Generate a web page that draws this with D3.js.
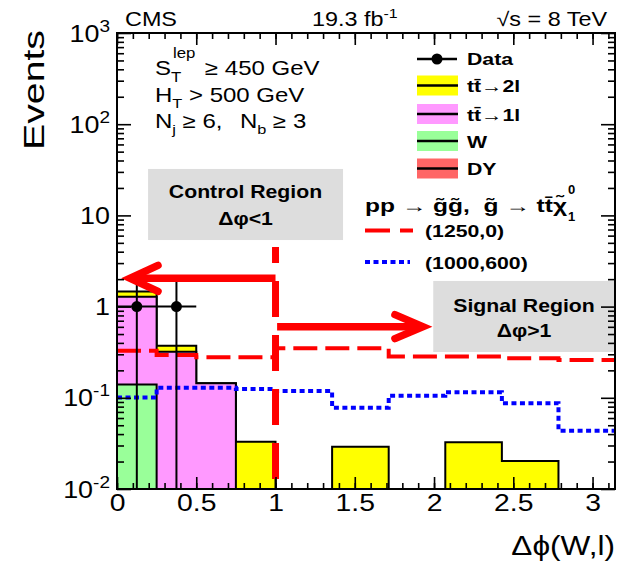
<!DOCTYPE html>
<html><head><meta charset="utf-8">
<script src="https://cdn.jsdelivr.net/npm/d3@7"></script>
<style>
body{margin:0;background:#fff;}
svg{display:block;font-family:"Liberation Sans",Arial,Helvetica,sans-serif;}
</style></head><body>
<svg id="c" width="625" height="562"></svg>
<script>
// ---------------- data ----------------
const binEdges = [0, 0.25, 0.5, 0.75, 1.0, 1.357, 1.714, 2.071, 2.428, 2.785, 3.1416];
const bkgDY   = [0, 0, 0, 0, 0, 0, 0, 0, 0, 0];
const bkgW    = [0.14, 0, 0, 0, 0, 0, 0, 0, 0, 0];
const bkgTT1l = [1.145, 0.32, 0.144, 0, 0, 0, 0, 0, 0, 0];
const bkgTT2l = [0.175, 0.052, 0, 0.033, 0, 0.029, 0, 0.0325, 0.0203, 0];
const sig1250_0   = [0.328, 0.294, 0.278, 0.278, 0.35, 0.35, 0.283, 0.283, 0.271, 0.26];
const sig1000_600 = [0.101, 0.129, 0.129, 0.125, 0.119, 0.078, 0.105, 0.115, 0.087, 0.0436];
const dataX   = [0.125, 0.375];
const dataVal = [1, 1];
const dataHi  = [2.0, 2.0];
const dataLo  = [0, 0];
const dataHalfWidth = [0.125, 0.125];
const xMajorTicks = [0, 0.5, 1, 1.5, 2, 2.5, 3];
const yMajorTicks = [0.01, 0.1, 1, 10, 100, 1000];
const legendLabels = ["Data", "tt\u0304\u21922l", "tt\u0304\u21921l", "W", "DY"];
const colors = {tt2l:"#ffff00", tt1l:"#ff99ff", w:"#99ff99", dy:"#ff6666"};

// ---------------- setup ----------------
const svg = d3.select("#c");
const x = d3.scaleLinear().domain([0, 3.1416]).range([117, 615]);
const y = d3.scaleLog().domain([0.01, 1000]).range([489, 33]).clamp(true);
const SX = 1.2;

svg.append("defs").append("clipPath").attr("id","clip")
  .append("rect").attr("x",117).attr("y",33).attr("width",498).attr("height",456);

function rich(parent, px, py, parts, o={}) {
  const size=o.size||20, weight=o.weight||"normal", anchor=o.anchor||"start", sx=o.sx||SX;
  const t = parent.append("text")
    .attr("transform",`translate(${px},${py}) scale(${sx},1)`)
    .attr("font-size",size).attr("font-weight",weight).attr("text-anchor",anchor).attr("fill","#000");
  let shift=0;
  parts.forEach(p=>{
    const [s,k] = Array.isArray(p)?p:[p,"n"];
    const target = k==="sup" ? -size*0.42 : k==="sub" ? size*0.32 : 0;
    const ts = t.append("tspan").text(s).attr("dy", target-shift);
    shift = target;
    if(k!=="n") ts.attr("font-size", size*0.68);
  });
  return t;
}

// ---------------- stacked histograms ----------------
const plot = svg.append("g").attr("clip-path","url(#clip)");
const cumDY = bkgDY.slice();
const cumW = cumDY.map((v,i)=>v+bkgW[i]);
const cumTT1 = cumW.map((v,i)=>v+bkgTT1l[i]);
const cumTT2 = cumTT1.map((v,i)=>v+bkgTT2l[i]);

function stepArea(vals){
  const yb = y.range()[0];
  let p = `M${x(binEdges[0])},${yb}`;
  vals.forEach((v,i)=>{
    const yy = v>0 ? y(v) : yb;
    p += `L${x(binEdges[i])},${yy}L${x(binEdges[i+1])},${yy}`;
  });
  p += `L${x(binEdges[binEdges.length-1])},${yb}Z`;
  return p;
}
[[cumTT2,colors.tt2l],[cumTT1,colors.tt1l],[cumW,colors.w],[cumDY,colors.dy]].forEach(([vals,c])=>{
  if(d3.max(vals)<=0) return;
  plot.append("path").attr("d",stepArea(vals)).attr("fill",c)
    .attr("stroke","#000").attr("stroke-width",2).attr("stroke-linejoin","miter");
});

// ---------------- signal lines ----------------
const stepLine = d3.line().x(d=>x(d[0])).y(d=>y(d[1]));
function stepPts(vals){ return vals.flatMap((v,i)=>[[binEdges[i],v],[binEdges[i+1],v]]); }
plot.append("path").attr("d",stepLine(stepPts(sig1000_600))).attr("fill","none")
  .attr("stroke","#0000ff").attr("stroke-width",4).attr("stroke-dasharray","5,3.5");
plot.append("path").attr("d",stepLine(stepPts(sig1250_0))).attr("fill","none")
  .attr("stroke","#ff0000").attr("stroke-width",4).attr("stroke-dasharray","24,8");

// ---------------- data points ----------------
dataX.forEach((dx,i)=>{
  plot.append("line").attr("x1",x(dx)).attr("x2",x(dx))
    .attr("y1",y(dataHi[i])).attr("y2",y(Math.max(dataLo[i],1e-3)))
    .attr("stroke","#000").attr("stroke-width",2);
  plot.append("line").attr("x1",x(dx-dataHalfWidth[i])).attr("x2",x(dx+dataHalfWidth[i]))
    .attr("y1",y(dataVal[i])).attr("y2",y(dataVal[i]))
    .attr("stroke","#000").attr("stroke-width",2);
  plot.append("circle").attr("cx",x(dx)).attr("cy",y(dataVal[i])).attr("r",5.5).attr("fill","#000");
});

// ---------------- annotations (boxes, arrows, cut line) ----------------
const ann = svg.append("g");
ann.append("rect").attr("x",x(0.196)).attr("y",y(32.3)).attr("width",x(1.426)-x(0.196))
  .attr("height",y(5.37)-y(32.3)).attr("fill","#dddddd");
ann.append("rect").attr("x",x(1.995)).attr("y",y(1.91)).attr("width",x(3.1416)-x(1.995))
  .attr("height",y(0.318)-y(1.91)).attr("fill","#dddddd");
rich(ann, 245.5, 198, ["Control Region"], {size:18, weight:"bold", anchor:"middle", sx:1.18});
rich(ann, 245.5, 225, ["\u0394\u03c6<1"], {size:18, weight:"bold", anchor:"middle", sx:1.18});
rich(ann, 524, 311.5, ["Signal Region"], {size:18, weight:"bold", anchor:"middle", sx:1.18});
rich(ann, 524, 337, ["\u0394\u03c6>1"], {size:18, weight:"bold", anchor:"middle", sx:1.18});

// vertical cut line
ann.append("line").attr("x1",x(1)).attr("x2",x(1)).attr("y1",y(4.5)).attr("y2",y(0.01))
  .attr("stroke","#ff0000").attr("stroke-width",7).attr("stroke-dasharray","36,18").attr("stroke-dashoffset",20);
// left arrow
{
  const yy=y(2.04), tip=x(0.082), tail=x(1);
  ann.append("line").attr("x1",tail).attr("x2",tip+4).attr("y1",yy).attr("y2",yy)
    .attr("stroke","#ff0000").attr("stroke-width",7.5);
  ann.append("path").attr("d",`M${tip+28},${yy-13}L${tip},${yy}L${tip+28},${yy+13}`)
    .attr("fill","none").attr("stroke","#ff0000").attr("stroke-width",7.5)
    .attr("stroke-linecap","round").attr("stroke-linejoin","miter");
}
// right arrow
{
  const yy=y(0.603), tip=x(1.93), tail=x(1.01);
  ann.append("line").attr("x1",tail).attr("x2",tip-4).attr("y1",yy).attr("y2",yy)
    .attr("stroke","#ff0000").attr("stroke-width",7.5);
  ann.append("path").attr("d",`M${tip-28},${yy-12}L${tip},${yy}L${tip-28},${yy+12}`)
    .attr("fill","none").attr("stroke","#ff0000").attr("stroke-width",7.5)
    .attr("stroke-linecap","round").attr("stroke-linejoin","miter");
}

// ---------------- axes ----------------
const axG = svg.append("g");
const xMinor = d3.range(0, 32).map(i=>i/10);
const yMinor = [];
[-2,-1,0,1,2].forEach(e=>{ for(let k=2;k<=9;k++) yMinor.push(k*Math.pow(10,e)); });

function styleAxis(g){ g.select(".domain").remove(); g.selectAll("line").attr("stroke","#000").attr("stroke-width",1.6); }

axG.append("g").attr("transform","translate(0,489)")
  .call(d3.axisBottom(x).tickValues(xMinor).tickSizeInner(-6).tickSizeOuter(0).tickFormat(""))
  .call(styleAxis);
axG.append("g").attr("transform","translate(0,33)")
  .call(d3.axisTop(x).tickValues(xMinor).tickSizeInner(-6).tickSizeOuter(0).tickFormat(""))
  .call(styleAxis);
axG.append("g").attr("transform","translate(0,33)")
  .call(d3.axisTop(x).tickValues(xMajorTicks).tickSizeInner(-12).tickSizeOuter(0).tickFormat(""))
  .call(styleAxis);
const xb = axG.append("g").attr("transform","translate(0,489)")
  .call(d3.axisBottom(x).tickValues(xMajorTicks).tickSizeInner(-12).tickSizeOuter(0).tickFormat(d3.format("")))
  .call(styleAxis);
xb.selectAll("text").attr("font-size",24).attr("fill","#000").attr("font-family","Liberation Sans, Arial, sans-serif")
  .attr("y",0).attr("dy",0).attr("transform","translate(0,22) scale(1.18,1)");

[[117,d3.axisLeft],[615,d3.axisRight]].forEach(([px,ax])=>{
  axG.append("g").attr("transform",`translate(${px},0)`)
    .call(ax(y).tickValues(yMinor).tickSizeInner(-7).tickSizeOuter(0).tickFormat(""))
    .call(styleAxis);
});
axG.append("g").attr("transform","translate(615,0)")
  .call(d3.axisRight(y).tickValues(yMajorTicks).tickSizeInner(-14).tickSizeOuter(0).tickFormat(""))
  .call(styleAxis);
const yl = axG.append("g").attr("transform","translate(117,0)")
  .call(d3.axisLeft(y).tickValues(yMajorTicks).tickSizeInner(-14).tickSizeOuter(0).tickFormat(""))
  .call(styleAxis);
yl.selectAll(".tick").each(function(d){
  const e = Math.round(Math.log10(d));
  const parts = e===0 ? ["1"] : e===1 ? ["10"] : ["10", [String(e),"sup"]];
  const t = d3.select(this).append("text").attr("fill","#000").attr("font-size",24)
    .attr("text-anchor","end").attr("transform","translate(-7,8) scale(1.12,1)")
    .attr("font-family","Liberation Sans, Arial, sans-serif");
  let shift=0;
  parts.forEach(p=>{
    const [s,k]=Array.isArray(p)?p:[p,"n"];
    const target = k==="sup"?-10:0;
    const ts=t.append("tspan").text(s).attr("dy",target-shift); shift=target;
    if(k==="sup") ts.attr("font-size",17);
  });
});

// frame
svg.append("rect").attr("x",117).attr("y",33).attr("width",498).attr("height",456)
  .attr("fill","none").attr("stroke","#000").attr("stroke-width",2);

// axis titles
svg.append("text").attr("transform","translate(44,30) rotate(-90)")
  .attr("text-anchor","end").attr("font-size",30).attr("textLength",120).attr("lengthAdjust","spacingAndGlyphs")
  .text("Events");
rich(svg, 615, 555, ["\u0394\u03d5(W,l)"], {size:27, anchor:"end", sx:1.17});

// header
rich(svg, 125, 26, ["CMS"], {size:19.5});
rich(svg, 312, 26, ["19.3 fb", ["-1","sup"]], {size:19.5});
rich(svg, 607, 26, ["\u221as = 8 TeV"], {size:19.5, anchor:"end"});

// selection text
rich(svg, 155, 75, ["S"], {size:20});
rich(svg, 171, 82, ["T"], {size:14});
rich(svg, 173, 58, ["lep"], {size:14});
rich(svg, 205, 75, ["\u2265 450 GeV"], {size:20});
rich(svg, 155, 101.5, ["H", ["T","sub"], " > 500 GeV"], {size:20});
rich(svg, 155, 128, ["N", ["j","sub"], " \u2265 6,"], {size:20});
rich(svg, 240, 128, ["N", ["b","sub"], " \u2265 3"], {size:20});

// ---------------- legend ----------------
const lg = svg.append("g");
lg.append("line").attr("x1",417).attr("x2",457).attr("y1",59).attr("y2",59).attr("stroke","#000").attr("stroke-width",2.5);
lg.append("circle").attr("cx",437).attr("cy",59).attr("r",5.5).attr("fill","#000");
rich(lg, 467, 65, [legendLabels[0]], {size:17, weight:"bold", sx:1.25});
const boxFills = [colors.tt2l, colors.tt1l, colors.w, colors.dy];
const boxY = [85.5, 114, 141, 168.5];
boxFills.forEach((c,i)=>{
  lg.append("rect").attr("x",417).attr("y",boxY[i]-10).attr("width",41).attr("height",20).attr("fill",c);
  lg.append("line").attr("x1",417).attr("x2",458).attr("y1",boxY[i]).attr("y2",boxY[i]).attr("stroke","#000").attr("stroke-width",2.5);
  rich(lg, 467, boxY[i]+6.5, [legendLabels[i+1]], {size:17, weight:"bold", sx:1.25});
});
lg.append("text").attr("x",365).attr("y",211.5).attr("font-size",18).attr("font-weight","bold")
  .attr("textLength",202).attr("lengthAdjust","spacingAndGlyphs")
  .text("pp \u2192 g\u0303g\u0303,\u00a0\u00a0g\u0303 \u2192 tt\u0304\u03c7\u0303");
lg.append("text").attr("x",568).attr("y",194).attr("font-size",13).attr("font-weight","bold").text("0");
lg.append("text").attr("x",568).attr("y",221).attr("font-size",13).attr("font-weight","bold").text("1");
lg.append("line").attr("x1",365).attr("x2",413).attr("y1",230.5).attr("y2",230.5)
  .attr("stroke","#ff0000").attr("stroke-width",4).attr("stroke-dasharray","25,10");
rich(lg, 425, 237, ["(1250,0)"], {size:17, weight:"bold", sx:1.25});
lg.append("line").attr("x1",365).attr("x2",410).attr("y1",262).attr("y2",262)
  .attr("stroke","#0000ff").attr("stroke-width",4).attr("stroke-dasharray","5,3.5");
rich(lg, 425, 268.5, ["(1000,600)"], {size:17, weight:"bold", sx:1.25});
</script>
</body></html>
